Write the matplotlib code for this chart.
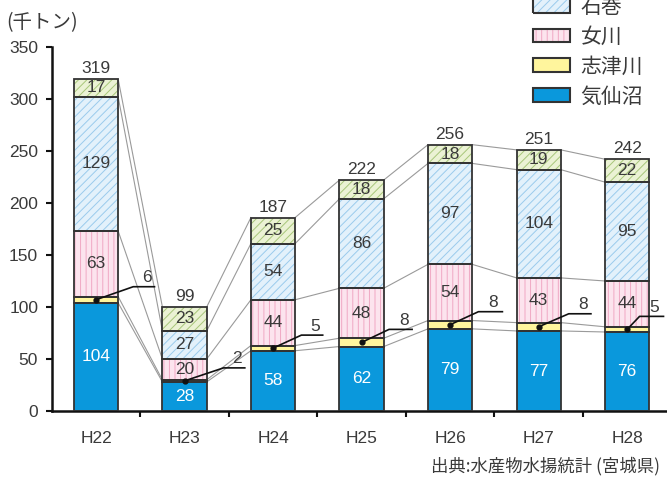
import matplotlib
matplotlib.use('Agg')
import matplotlib.pyplot as plt
from matplotlib.patches import Patch
from matplotlib.legend_handler import HandlerTuple
from matplotlib import font_manager
import numpy as np

# ---- data (千トン) ----
years = ['H22', 'H23', 'H24', 'H25', 'H26', 'H27', 'H28']
kesennuma = [104, 28, 58, 62, 79, 77, 76]
shizugawa = [6, 2, 5, 8, 8, 8, 5]
onagawa = [63, 20, 44, 48, 54, 43, 44]
ishinomaki = [129, 27, 54, 86, 97, 104, 95]
others = [17, 23, 25, 18, 18, 19, 22]
totals = [319, 99, 187, 222, 256, 251, 242]

names = ['気仙沼', '志津川', '女川', '石巻', 'その他']
values = [kesennuma, shizugawa, onagawa, ishinomaki, others]

# ---- styling ----
face = ['#0A98DC', '#FFF59D', '#FCE4EE', '#E3F1FB', '#EBF2D4']
hatch = [None, None, '|||', '////', '////']
hatch_col = ['#0A98DC', '#FFF59D', '#F0A8C4', '#9ACBEC', '#A8C67A']
edge = '#333333'
txt = '#3a3a3a'

available = {f.name for f in font_manager.fontManager.ttflist}
num_font = 'Liberation Sans Narrow' if 'Liberation Sans Narrow' in available else 'Liberation Sans'
jp_font = ['Noto Sans CJK JP', 'DejaVu Sans']
plt.rcParams['font.family'] = [num_font, 'Noto Sans CJK JP', 'DejaVu Sans']
plt.rcParams['hatch.linewidth'] = 0.7

# leader-line layout for the 志津川 labels (category units)
leader_dx = [(0.42, 0.67), (0.44, 0.69), (0.32, 0.57), (0.31, 0.58),
             (0.32, 0.60), (0.34, 0.60), (0.14, 0.42)]
leader_rise = 12.5

fig = plt.figure(figsize=(6.67, 4.78), dpi=100)
ax = fig.add_axes([0.078, 0.14, 0.922, 0.762])

x = np.arange(len(years))
w = 0.5
bottom = np.zeros(len(years))
levels = []
for name, vals, fc, h, hc in zip(names, values, face, hatch, hatch_col):
    vals = np.array(vals, dtype=float)
    ax.bar(x, vals, w, bottom=bottom, color=fc, edgecolor=hc, linewidth=0,
           hatch=h, zorder=2)
    ax.bar(x, vals, w, bottom=bottom, fill=False, edgecolor=edge,
           linewidth=1.3, zorder=3)
    if name == '志津川':
        for i in range(len(x)):
            yc = bottom[i] + vals[i] / 2
            d1, d2 = leader_dx[i]
            ax.plot([x[i], x[i] + d1, x[i] + d2],
                    [yc, yc + leader_rise, yc + leader_rise],
                    color='#111111', lw=1.2, zorder=5, solid_capstyle='butt')
            ax.plot([x[i]], [yc], 'o', color='#111111', ms=3.5, zorder=5)
            ax.text(x[i] + (d1 + d2) / 2 + 0.03, yc + leader_rise + 1.5,
                    f'{int(vals[i])}', ha='center', va='bottom',
                    fontsize=12.5, color=txt, zorder=6)
    else:
        col = 'white' if name == '気仙沼' else txt
        for i in range(len(x)):
            ax.text(x[i], bottom[i] + vals[i] / 2, f'{int(vals[i])}',
                    ha='center', va='center', fontsize=12.5, color=col, zorder=6)
    bottom = bottom + vals
    levels.append(bottom.copy())

# series lines between neighbouring bars
for lv in levels:
    for i in range(len(x) - 1):
        ax.plot([x[i] + w / 2, x[i + 1] - w / 2], [lv[i], lv[i + 1]],
                color='#9a9a9a', lw=0.8, zorder=1)

# totals above the bars
for i in range(len(x)):
    ax.annotate(f'{totals[i]}', (x[i], levels[-1][i]), xytext=(0, 2),
                textcoords='offset points', ha='center', va='bottom',
                fontsize=12.5, color=txt)

ax.set_ylim(0, 350)
ax.set_xlim(-0.497, 6.45)
ax.set_yticks(range(0, 351, 50))
ax.set_xticks(np.arange(0.5, 6, 1))
ax.set_xticklabels([])
ax.set_xticks(x, minor=True)
ax.set_xticklabels(years, minor=True)
ax.tick_params(axis='x', which='minor', length=0, pad=14, labelsize=12.5,
               labelcolor=txt)
ax.tick_params(axis='x', which='major', direction='out', length=4, width=1.5,
               color='#111111')
ax.tick_params(axis='y', direction='out', length=4, width=1.5, color='#111111',
               labelsize=12.5, labelcolor=txt, pad=6)
for s in ['top', 'right']:
    ax.spines[s].set_visible(False)
for s in ['left', 'bottom']:
    ax.spines[s].set_linewidth(1.8)
    ax.spines[s].set_color('#111111')

fig.text(0.010, 0.953, '(千トン)', fontsize=14, color=txt, family=jp_font,
         va='center', ha='left')
fig.text(0.99, 0.025, '出典:水産物水揚統計 (宮城県)', fontsize=12.5, color=txt,
         family=jp_font, va='center', ha='right')

# legend (top entry runs off the figure edge)
handles = []
for fc, h, hc in zip(face[:4], hatch[:4], hatch_col[:4]):
    handles.append((Patch(facecolor=fc, edgecolor=hc, hatch=h, linewidth=0),
                    Patch(facecolor='none', edgecolor=edge, linewidth=1.5)))
order = [3, 2, 1, 0]
leg = fig.legend([handles[i] for i in order], [names[i] for i in order],
                 handler_map={tuple: HandlerTuple(ndivide=1, pad=0)},
                 loc='upper left', bbox_to_anchor=(0.786, 1.026),
                 frameon=False, prop={'family': jp_font, 'size': 15},
                 handlelength=1.8, handleheight=0.65, labelspacing=0.38,
                 handletextpad=0.5, labelcolor=txt, borderaxespad=0)

fig.savefig('out.png', dpi=100)
